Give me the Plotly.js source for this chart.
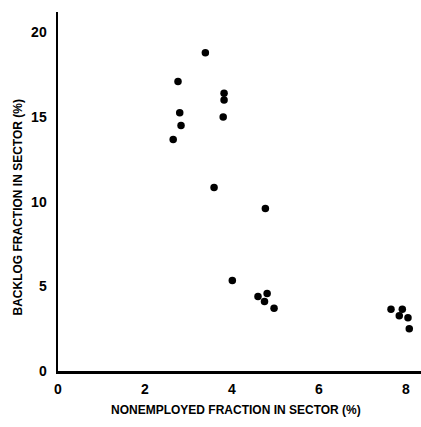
<!DOCTYPE html>
<html>
<head>
<meta charset="utf-8">
<script src="https://cdn.plot.ly/plotly-3.0.1.min.js"></script>
<style>html,body{margin:0;padding:0;background:#fff;}#chart{width:421px;height:427px;}</style>
</head>
<body>
<div id="chart"></div>
<script>
// Nonemployed fraction in sector (%)
const nonemployed = [3.39, 2.76, 3.82, 3.82, 2.80, 3.80, 2.83, 2.65, 3.59, 4.77,
                     4.01, 4.60, 4.81, 4.75, 4.97, 7.66, 7.92, 7.85, 8.05, 8.08];
// Backlog fraction in sector (%)
const backlog = [18.8, 17.1, 16.4, 16.0, 15.25, 15.0, 14.5, 13.67, 10.83, 9.6,
                 5.34, 4.4, 4.57, 4.1, 3.7, 3.65, 3.65, 3.27, 3.14, 2.5];
const xTicks = [0, 2, 4, 6, 8];
const yTicks = [0, 5, 10, 15, 20];
const xTitle = "NONEMPLOYED FRACTION IN SECTOR (%)";
const yTitle = "BACKLOG FRACTION IN SECTOR (%)";

const tickFont = {family: "Liberation Sans, Arial, sans-serif", size: 14, color: "#000", weight: "bold"};
const titleFont = {family: "Liberation Sans, Arial, sans-serif", size: 12, color: "#000", weight: "bold"};

const data = [{
  x: nonemployed, y: backlog, type: "scatter", mode: "markers",
  marker: {color: "#000", size: 7.5}, hoverinfo: "skip", cliponaxis: false
}];

const layout = {
  width: 421, height: 427,
  margin: {l: 58, r: 0, t: 12, b: 56},
  paper_bgcolor: "#fff", plot_bgcolor: "#fff",
  showlegend: false,
  xaxis: {
    range: [0, 8.35], tickvals: xTicks, ticktext: xTicks.map(String),
    showgrid: false, zeroline: false, showline: true, linecolor: "#000", linewidth: 2.5,
    ticks: "", tickfont: tickFont, ticklabelstandoff: 4
  },
  yaxis: {
    range: [0, 21.2], tickvals: yTicks, ticktext: yTicks.map(String),
    showgrid: false, zeroline: false, showline: true, linecolor: "#000", linewidth: 2.5,
    ticks: "", tickfont: tickFont, ticklabelstandoff: 6
  },
  annotations: [
    {text: xTitle, xref: "paper", yref: "paper", x: 0.49, y: 0, xanchor: "center", yanchor: "middle",
     yshift: -39, showarrow: false, font: titleFont},
    {text: yTitle, xref: "paper", yref: "paper", x: 0, y: 0.5, xanchor: "center", yanchor: "middle",
     xshift: -41, yshift: -16, textangle: -90, showarrow: false, font: titleFont}
  ]
};

Plotly.newPlot("chart", data, layout, {staticPlot: true, displayModeBar: false});
</script>
</body>
</html>
